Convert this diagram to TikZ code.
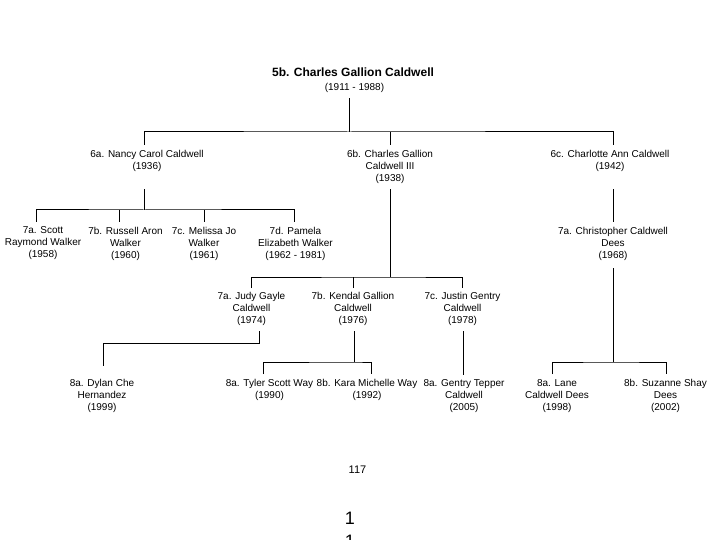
\documentclass[tikz,border=0pt]{standalone}
\usepackage{fontspec}
\setmainfont{Liberation Sans}
\begin{document}
\begin{tikzpicture}[x=1pt,y=-1pt,
  line width=1pt,
  person/.style={align=center, inner sep=0pt, anchor=north, font=\fontsize{10}{12}\selectfont},
  titlebox/.style={inner sep=0pt, anchor=north, font=\bfseries\fontsize{12}{14}\selectfont},
  pagebox/.style={inner sep=0pt, anchor=north, font=\fontsize{11}{13}\selectfont},
  bigbox/.style={align=center, inner sep=0pt, anchor=north, font=\fontsize{18}{23}\selectfont}]
\useasboundingbox (0,0) rectangle (720,540);

% nodes
\node[titlebox] (title) at (353,67.7) {5b. Charles Gallion Caldwell};
\node[person] (date) at (354.5,82.4) {(1911 - 1988)};

\node[person] (n6a) at (147,149.4) {6a. Nancy Carol Caldwell\\(1936)};
\node[person] (n6b) at (390,149.4) {6b. Charles Gallion\\Caldwell III\\(1938)};
\node[person] (n6c) at (610,149.4) {6c. Charlotte Ann Caldwell\\(1942)};

\node[person] (n7a) at (43,226.4) {7a. Scott\\Raymond Walker\\(1958)};
\node[person] (n7b) at (125.5,226.4) {7b. Russell Aron\\Walker\\(1960)};
\node[person] (n7c) at (204,226.4) {7c. Melissa Jo\\Walker\\(1961)};
\node[person] (n7d) at (295.5,226.4) {7d. Pamela\\Elizabeth Walker\\(1962 - 1981)};
\node[person] (n7e) at (613,226.4) {7a. Christopher Caldwell\\Dees\\(1968)};

\node[person] (n7f) at (251.5,292.1) {7a. Judy Gayle\\Caldwell\\(1974)};
\node[person] (n7g) at (353,292.1) {7b. Kendal Gallion\\Caldwell\\(1976)};
\node[person] (n7h) at (462.5,292.1) {7c. Justin Gentry\\Caldwell\\(1978)};

\node[person] (n8a) at (102,379.1) {8a. Dylan Che\\Hernandez\\(1999)};
\node[person] (n8b) at (269.5,379.1) {8a. Tyler Scott Way\\(1990)};
\node[person] (n8c) at (367,379.1) {8b. Kara Michelle Way\\(1992)};
\node[person] (n8d) at (464,379.1) {8a. Gentry Tepper\\Caldwell\\(2005)};
\node[person] (n8e) at (557,379.1) {8a. Lane\\Caldwell Dees\\(1998)};
\node[person] (n8f) at (665.5,379.1) {8b. Suzanne Shay\\Dees\\(2002)};

\node[pagebox] (page) at (357.5,465.1) {117};
\node[bigbox] (big) at (350,512.1) {1\\1};

% junction coordinates
\coordinate (b6) at (349,132);
\coordinate (b7w) at (144,210);
\coordinate (b7c) at (390,277);
\coordinate (b8k) at (354,362);
\coordinate (b8d) at (613,362);

% generation 6
\draw ([xshift=-5.5pt,yshift=-5.3pt]date.south) -- (b6);
\draw ([xshift=-3pt,yshift=4.4pt]n6a.north) |- (b6) -| ([xshift=3pt,yshift=4.4pt]n6c.north);
\draw ([yshift=4.4pt]n6b.north) -- (n6b.north |- b6);

% Walker children
\draw ([xshift=-3pt,yshift=-17.3pt]n6a.south) -- (b7w);
\draw ([xshift=-7pt,yshift=4.4pt]n7a.north) |- (b7w) -| ([xshift=-1.5pt,yshift=4.4pt]n7d.north);
\draw ([xshift=-6.5pt,yshift=4.4pt]n7b.north) -- ++(0,-12);
\draw ([yshift=4.4pt]n7c.north) -- ++(0,-12);

% Caldwell children
\draw ([yshift=-5.3pt]n6b.south) -- (b7c);
\draw ([yshift=4.1pt]n7f.north) |- (b7c) -| ([yshift=4.1pt]n7h.north);
\draw ([yshift=4.1pt]n7g.north) -- ++(0,-11);

% Dees
\draw ([xshift=3pt,yshift=-17.3pt]n6c.south) -- ([yshift=4.4pt]n7e.north);
\draw ([yshift=-7.3pt]n7e.south) -- (b8d);
\draw ([xshift=-5pt,yshift=5pt]n8e.north) |- (b8d) -| ([xshift=0.5pt,yshift=5pt]n8f.north);

% Judy -> Dylan
\draw ([xshift=7.5pt,yshift=-4.6pt]n7f.south) -- ++(0,12) -| ([xshift=1pt,yshift=13pt]n8a.north);

% Kendal -> Tyler, Kara
\draw ([xshift=1pt,yshift=-4.6pt]n7g.south) -- (b8k);
\draw ([xshift=-6.5pt,yshift=5pt]n8b.north) |- (b8k) -| ([xshift=4pt,yshift=5pt]n8c.north);

% Justin -> Gentry
\draw ([xshift=0.5pt,yshift=-4.6pt]n7h.south) -- ([xshift=-1pt,yshift=4pt]n8d.north);
\end{tikzpicture}
\end{document}
